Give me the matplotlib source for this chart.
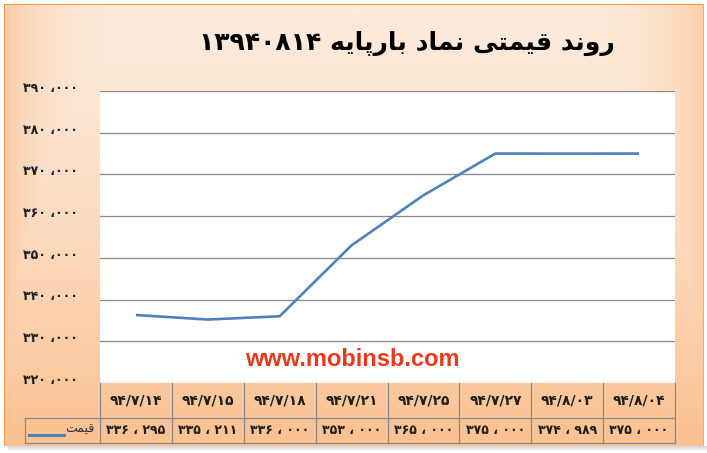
import numpy as np
import matplotlib.pyplot as plt
import matplotlib.transforms as mtransforms
from matplotlib.lines import Line2D

plt.rcParams['font.family'] = ['DejaVu Sans']

W, H = 707, 453

title = 'روند قیمتی نماد بارپایه ۱۳۹۴۰۸۱۴'
series_name = 'قیمت'
dates = ['۹۴/۷/۱۴', '۹۴/۷/۱۵', '۹۴/۷/۱۸', '۹۴/۷/۲۱',
         '۹۴/۷/۲۵', '۹۴/۷/۲۷', '۹۴/۸/۰۳', '۹۴/۸/۰۴']
prices = [336295, 335211, 336000, 353000, 365000, 375000, 374989, 375000]
y_ticks = [320000, 330000, 340000, 350000, 360000, 370000, 380000, 390000]
watermark = 'www.mobinsb.com'

# --- tiny arabic shaper (matplotlib does no shaping / bidi) ---
FORMS = {  # iso, final, initial, medial
    'ا': ('\uFE8D', '\uFE8E', None, None),
    'ب': ('\uFE8F', '\uFE90', '\uFE91', '\uFE92'),
    'پ': ('\uFB56', '\uFB57', '\uFB58', '\uFB59'),
    'ت': ('\uFE95', '\uFE96', '\uFE97', '\uFE98'),
    'د': ('\uFEA9', '\uFEAA', None, None),
    'ر': ('\uFEAD', '\uFEAE', None, None),
    'ق': ('\uFED5', '\uFED6', '\uFED7', '\uFED8'),
    'م': ('\uFEE1', '\uFEE2', '\uFEE3', '\uFEE4'),
    'ن': ('\uFEE5', '\uFEE6', '\uFEE7', '\uFEE8'),
    'ه': ('\uFEE9', '\uFEEA', '\uFEEB', '\uFEEC'),
    'و': ('\uFEED', '\uFEEE', None, None),
    'ی': ('\uFEEF', '\uFEF0', '\uFEF3', '\uFEF4'),
}


def shape_word(w):
    out = []
    for i, ch in enumerate(w):
        if ch not in FORMS:
            out.append(ch)
            continue
        f = FORMS[ch]
        prev = w[i - 1] if i > 0 else None
        nxt = w[i + 1] if i + 1 < len(w) else None
        jp = prev in FORMS and FORMS[prev][2] is not None
        jn = f[2] is not None and nxt in FORMS
        if jp and jn:
            out.append(f[3])
        elif jp:
            out.append(f[1])
        elif jn:
            out.append(f[2])
        else:
            out.append(f[0])
    return ''.join(out)


def rtl(s):
    words = []
    for w in s.split(' '):
        if any(c in FORMS for c in w):
            words.append(shape_word(w)[::-1])
        else:
            words.append(w)
    return ' '.join(words[::-1])


FA = str.maketrans('0123456789', '۰۱۲۳۴۵۶۷۸۹')


def fa_num(v, sep):
    s = f'{v:,}'.translate(FA)
    return s.replace(',', sep)


# --- background ---
fig = plt.figure(figsize=(W / 100, H / 100), dpi=100)
bg = fig.add_axes([0, 0, 1, 1], zorder=-10)
yy, xx = np.mgrid[0:H, 0:W]
light = np.array([253, 234, 219]) / 255
dark = np.array([250, 192, 143]) / 255
v = np.clip((yy - 10) / 440, 0, 1) ** 1.4
h = np.clip(np.abs(xx - W / 2) / (W / 2), 0, 1) ** 8
t = np.clip(np.maximum(v, h * 0.75), 0, 1)[..., None]
img = light * (1 - t) + dark * t
inside = (xx >= 4) & (xx <= 703) & (yy >= 4) & (yy <= 445)
img[~inside] = 1.0
shadow = (xx >= 8) & (xx <= 706) & (yy > 445) & (yy <= 451)
img[shadow] = np.array([0.82, 0.82, 0.82])[None, :] + (yy[shadow, None] - 445) / 6 * 0.17
img[(xx == 4) & (yy >= 4) & (yy <= 445)] = np.array([247, 150, 70]) / 255
img[(yy == 4) & (xx >= 4) & (xx <= 703)] = np.array([247, 150, 70]) / 255
img[(xx == 703) & (yy >= 4) & (yy <= 445)] = np.array([247, 170, 110]) / 255
bg.imshow(img, aspect='auto', extent=[0, W, H, 0], interpolation='bilinear')
bg.set_xlim(0, W)
bg.set_ylim(H, 0)
bg.axis('off')


def fy(py):
    return 1 - py / H


# --- plot area ---
ax = fig.add_axes([100 / W, fy(383), 575 / W, 292 / H])
ax.set_facecolor('white')
x = np.arange(len(prices))
ax.plot(x, prices, color='#4f81bd', lw=1.9, solid_capstyle='butt')
ax.set_xlim(-0.5, len(prices) - 0.5)
ax.set_ylim(y_ticks[0], y_ticks[-1])
ax.set_yticks(y_ticks)
ax.set_yticklabels([fa_num(v, ' ،') for v in y_ticks], fontsize=9,
                   fontweight='bold', color='#1e1e1e')
ax.tick_params(axis='y', length=0, pad=16)
ax.set_xticks([])
ax.grid(axis='y', color='#878787', lw=0.9)
for s in ax.spines.values():
    s.set_visible(False)
off = mtransforms.ScaledTranslation(0, 3 / 72, fig.dpi_scale_trans)
for lab in ax.get_yticklabels():
    lab.set_transform(lab.get_transform() + off)

fig.text(352 / W, fy(359), watermark, ha='center', va='center', fontsize=17,
         fontweight='bold', color='#e8391f', family='Liberation Sans')

# --- data table ---
tr = mtransforms.blended_transform_factory(ax.transData, fig.transFigure)
grid_c = '#8a8a8a'
y_top, y_mid, y_bot = fy(383), fy(418), fy(443)
for i in range(len(prices) + 1):
    fig.add_artist(Line2D([i - 0.5, i - 0.5], [y_top, y_bot], transform=tr, color=grid_c, lw=0.9))
for yl in (y_mid, y_bot):
    fig.add_artist(Line2D([25 / W, 675 / W], [yl, yl], transform=fig.transFigure, color=grid_c, lw=0.9))
fig.add_artist(Line2D([25 / W, 25 / W], [y_mid, y_bot], transform=fig.transFigure, color=grid_c, lw=0.9))
for i, (d, p) in enumerate(zip(dates, prices)):
    ax.text(i, (y_top + y_mid) / 2, d, transform=tr, ha='center', va='center',
            fontsize=10, fontweight='bold', color='#1e1e1e', clip_on=False)
    ax.text(i, (y_mid + y_bot) / 2, fa_num(p, ' ، '), transform=tr, ha='center', va='center',
            fontsize=9, fontweight='bold', color='#1e1e1e', clip_on=False)

# legend key in the table
fig.add_artist(Line2D([29 / W, 64 / W], [fy(435), fy(435)], transform=fig.transFigure,
                      color='#4f81bd', lw=2.2))
fig.text(65 / W, fy(429), rtl(series_name), ha='left', va='center', fontsize=9, color='#333333')

# --- title ---
fig.text(407 / W, fy(43), rtl(title), ha='center', va='center', fontsize=18,
         fontweight='bold', color='black')

fig.savefig('out.png', dpi=100)
